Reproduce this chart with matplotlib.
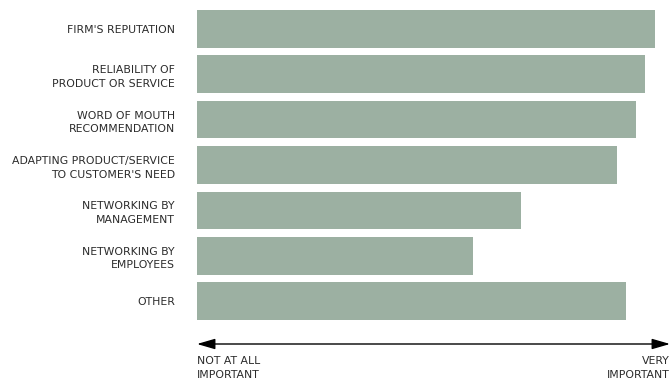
import matplotlib.pyplot as plt
from matplotlib.patches import FancyArrowPatch

# datos del grafico
categorias = ["FIRM'S REPUTATION", "RELIABILITY OF\nPRODUCT OR SERVICE",
              "WORD OF MOUTH\nRECOMMENDATION",
              "ADAPTING PRODUCT/SERVICE\nTO CUSTOMER'S NEED",
              "NETWORKING BY\nMANAGEMENT", "NETWORKING BY\nEMPLOYEES", "OTHER"]
valores = [97.0, 94.9, 93.0, 89.0, 68.6, 58.5, 90.9]
etiqueta_izq = "NOT AT ALL\nIMPORTANT"
etiqueta_der = "VERY\nIMPORTANT"

fuente = ['Liberation Sans Narrow', 'DejaVu Sans']
color_barra = '#9cb0a2'
color_texto = '#2b2b2b'

W, H = 669, 383
fig = plt.figure(figsize=(W / 100, H / 100), dpi=100)
ax = fig.add_axes([197 / W, 63 / H, 472 / W, 310 / H])

pos = list(range(len(categorias)))
ax.barh(pos, valores, height=0.83, color=color_barra)
ax.set_xlim(0, 100)
ax.set_ylim(len(categorias) - 1 + 0.415, -0.415)
ax.set_yticks(pos)
ax.set_yticklabels(categorias, family=fuente, fontsize=7.8, color=color_texto,
                   linespacing=1.45, ha='right')
ax.tick_params(axis='y', length=0, pad=16)
ax.set_xticks([])
for s in ax.spines.values():
    s.set_visible(False)

# flecha de escala
flecha = FancyArrowPatch(
    (197 / W, 1 - 344 / H), (670 / W, 1 - 344 / H), transform=fig.transFigure,
    arrowstyle='<|-|>,head_length=11,head_width=3.2', color='black', lw=1.0,
    shrinkA=0, shrinkB=0)
fig.patches.append(flecha)

fig.text(197 / W, 1 - 356 / H, etiqueta_izq, family=fuente, fontsize=7.8,
         color=color_texto, ha='left', va='top', linespacing=1.45)
fig.text(670 / W, 1 - 356 / H, etiqueta_der, family=fuente, fontsize=7.8,
         color=color_texto, ha='right', va='top', linespacing=1.45,
         multialignment='right')

plt.savefig('out.png', dpi=100)
